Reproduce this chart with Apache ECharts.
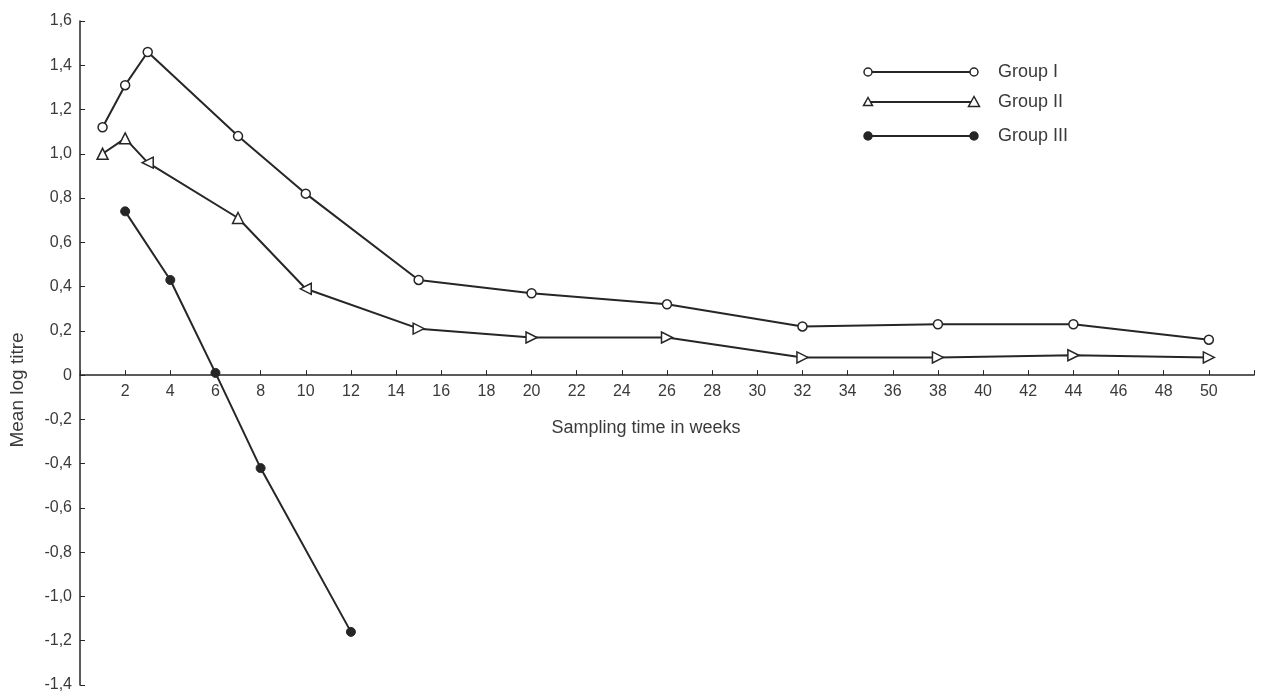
<!DOCTYPE html>
<html><head><meta charset="utf-8">
<script src="https://cdn.jsdelivr.net/npm/echarts@6.0.0/dist/echarts.min.js"></script>
<style>html,body{margin:0;padding:0;background:#fff}#c{width:1265px;height:694px}</style>
</head><body><div id="c"></div>
<script>
// Data
const weeksAB = [1, 2, 3, 7, 10, 15, 20, 26, 32, 38, 44, 50];
const groupI = [1.12, 1.31, 1.46, 1.08, 0.82, 0.43, 0.37, 0.32, 0.22, 0.23, 0.23, 0.16];
const groupII = [1.00, 1.07, 0.96, 0.71, 0.39, 0.21, 0.17, 0.17, 0.08, 0.08, 0.09, 0.08];
const weeksC = [2, 4, 6, 8, 12];
const groupIII = [0.74, 0.43, 0.01, -0.42, -1.16];
const seriesNames = ['Group I', 'Group II', 'Group III'];

// style: triangle orientation per Group II point (degrees)
const triRotate = [0, 0, 90, 0, 90, -90, -90, -90, -90, -90, -90, -90];

const INK = '#262626';
const TXT = '#3a3a3a';
const FONT = 'Liberation Sans, Arial, sans-serif';

const chart = echarts.init(document.getElementById('c'), null, {renderer: 'canvas'});

function pairs(xs, ys) { return xs.map((x, i) => [x, ys[i]]); }

const GRID_TOP = 21, GRID_BOTTOM = 9, H = 694;
const Y_MIN = -1.4, Y_MAX = 1.6;
const plotH = H - GRID_TOP - GRID_BOTTOM;
const zeroFromBottom = plotH * (0 - Y_MIN) / (Y_MAX - Y_MIN);

const legendRows = [
  {y: 72, symbol: 'circle', fill: '#fff'},
  {y: 102, symbol: 'triangle', fill: '#fff'},
  {y: 136, symbol: 'circle', fill: INK}
];
const graphics = [];
legendRows.forEach((r, i) => {
  graphics.push({type: 'line', shape: {x1: 868, y1: r.y, x2: 974, y2: r.y}, style: {stroke: INK, lineWidth: 2}});
  [868, 974].forEach((x, k) => {
    if (r.symbol === 'circle') {
      graphics.push({type: 'circle', shape: {cx: x, cy: r.y, r: 4}, style: {fill: r.fill, stroke: INK, lineWidth: 1.5}, z: 10});
    } else {
      const s = k === 0 ? 4.5 : 5.5;
      graphics.push({type: 'polygon', shape: {points: [[x, r.y - s], [x - s, r.y + s * 0.8], [x + s, r.y + s * 0.8]]}, style: {fill: '#fff', stroke: INK, lineWidth: 1.5}, z: 10});
    }
  });
  graphics.push({type: 'text', x: 998, y: r.y, style: {text: seriesNames[i], font: '18px ' + FONT, fill: TXT, align: 'left', verticalAlign: 'middle'}});
});
graphics.push({type: 'text', x: 646, y: 428, style: {text: 'Sampling time in weeks', font: '18px ' + FONT, fill: TXT, align: 'center', verticalAlign: 'middle'}});
graphics.push({type: 'text', x: 18, y: 390, rotation: Math.PI / 2, style: {text: 'Mean log titre', font: '19px ' + FONT, fill: TXT, align: 'center', verticalAlign: 'middle'}});

const option = {
  backgroundColor: '#fff',
  animation: false,
  grid: {left: 80, right: 11, top: GRID_TOP, bottom: GRID_BOTTOM, containLabel: false, outerBoundsMode: 'none'},
  xAxis: {
    type: 'value', min: 0, max: 52, interval: 2, position: 'bottom',
    offset: -zeroFromBottom,
    splitLine: {show: false},
    axisLine: {show: true, onZero: false, lineStyle: {color: INK, width: 1.5}},
    axisTick: {show: true, inside: true, length: 5, lineStyle: {color: INK}},
    axisLabel: {
      margin: 8, color: TXT, fontSize: 16, fontFamily: FONT,
      formatter: v => (v > 0 && v <= 50 && v % 2 === 0) ? String(v) : ''
    }
  },
  yAxis: {
    type: 'value', min: Y_MIN, max: Y_MAX, interval: 0.2,
    splitLine: {show: false},
    axisLine: {show: true, onZero: false, lineStyle: {color: INK, width: 1.5}},
    axisTick: {show: true, inside: true, length: 5, lineStyle: {color: INK}},
    axisLabel: {
      margin: 8, color: TXT, fontSize: 16, fontFamily: FONT,
      formatter: v => Math.abs(v) < 1e-9 ? '0' : v.toFixed(1).replace('.', ',')
    }
  },
  series: [
    {
      name: seriesNames[0], type: 'line', data: pairs(weeksAB, groupI),
      symbol: 'circle', symbolSize: 9, showAllSymbol: true,
      lineStyle: {color: INK, width: 2},
      itemStyle: {color: '#fff', borderColor: INK, borderWidth: 1.5}
    },
    {
      name: seriesNames[1], type: 'line', data: pairs(weeksAB, groupII),
      symbol: 'triangle', symbolSize: 11, showAllSymbol: true,
      symbolRotate: (val, p) => triRotate[p.dataIndex] || 0,
      lineStyle: {color: INK, width: 2},
      itemStyle: {color: '#fff', borderColor: INK, borderWidth: 1.5}
    },
    {
      name: seriesNames[2], type: 'line', data: pairs(weeksC, groupIII),
      symbol: 'circle', symbolSize: 9, showAllSymbol: true,
      lineStyle: {color: INK, width: 2},
      itemStyle: {color: INK, borderColor: INK, borderWidth: 1}
    }
  ],
  graphic: graphics
};
chart.setOption(option);
</script>
</body></html>
